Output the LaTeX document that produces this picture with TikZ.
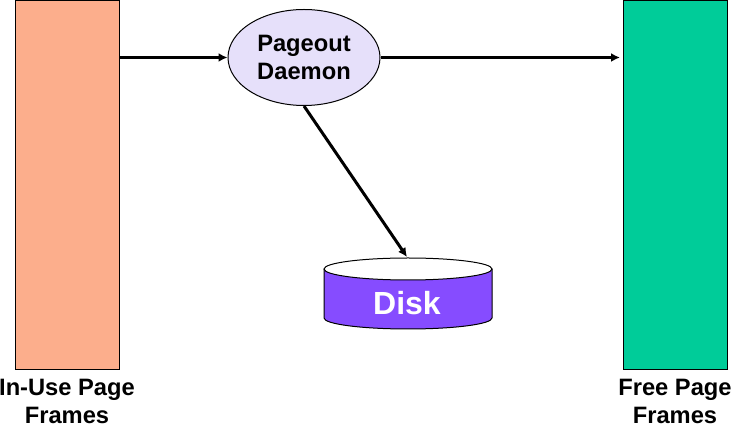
\documentclass[tikz,border=0pt]{standalone}
\usepackage{fontspec}
\setmainfont{Liberation Sans}
\usetikzlibrary{shapes.geometric,arrows.meta}
\definecolor{inuse}{RGB}{252,174,140}
\definecolor{freeframes}{RGB}{0,204,153}
\definecolor{daemon}{RGB}{230,224,250}
\definecolor{disk}{RGB}{134,76,255}
\tikzset{
  frames/.style={draw=black, line width=1pt, minimum width=104pt, minimum height=369pt, inner sep=0pt},
  caption/.style={align=center, inner sep=0pt, font=\bfseries\fontsize{23.7}{28}\selectfont},
  flow/.style={-{Latex[length=9pt,width=9pt]}, line width=3pt},
}
\begin{document}
\begin{tikzpicture}[x=1pt,y=-1pt]
\useasboundingbox (0,0) rectangle (732,427);
\node[frames, fill=inuse] (inusebar) at (67.5,185.5) {};
\node[frames, fill=freeframes] (freebar) at (675.5,185.5) {};
\node[draw=black, line width=1pt, fill=daemon, ellipse, minimum width=152pt, minimum height=96pt, inner sep=0pt, align=center, font=\bfseries\fontsize{23.7}{28.5}\selectfont] (pageout) at (304,57.5) {Pageout\\Daemon};
% Disk body
\fill[disk] (324,269) -- (324,318) arc[start angle=180, end angle=360, x radius=84, y radius=-11] -- (492,269) -- cycle;
\draw[line width=1pt] (324,269) -- (324,318) arc[start angle=180, end angle=360, x radius=84, y radius=-11] -- (492,269);
\draw[line width=1pt, fill=white] (408,269) ellipse[x radius=84, y radius=11];
\node[font=\bfseries\fontsize{32}{36}\selectfont, text=white] (disklabel) at (407,303) {Disk};
\coordinate (disktop) at (407,257);
\coordinate (freeend) at (620,57.5);
\node[caption] (inusetext) at (67,401.5) {In-Use Page\\Frames};
\node[caption] (freetext) at (675,401.5) {Free Page\\Frames};
\draw[flow] (inusebar.east |- pageout.west) -- (pageout.west);
\draw[flow] (pageout.east) -- (freeend);
\draw[flow] (pageout.south) -- (disktop);
\end{tikzpicture}
\end{document}
